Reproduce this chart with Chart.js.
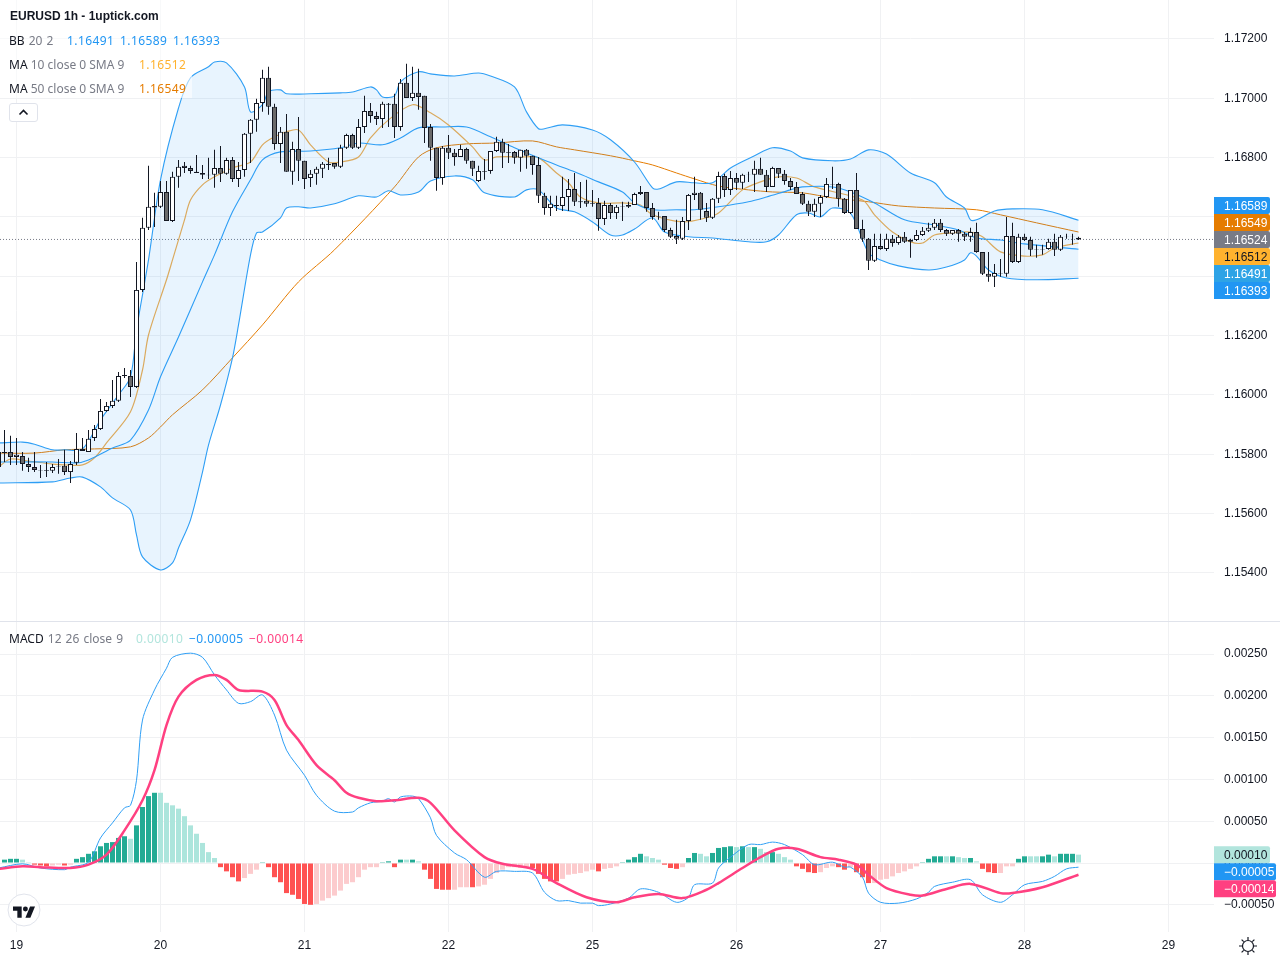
<!DOCTYPE html>
<html>
<head>
<meta charset="utf-8">
<title>EURUSD 1h</title>
<script src="https://cdn.jsdelivr.net/npm/chart.js@4/dist/chart.umd.min.js"></script>
<style>
    html, body { margin: 0; padding: 0; background: #fff; }
    #wrap { position: relative; width: 1280px; height: 960px; overflow: hidden; font-family: "Noto Sans", sans-serif; }
    canvas { position: absolute; left: 0; }
    #priceChart { top: 0; }
    #macdChart { top: 622px; }
    #split { position: absolute; left: 0; top: 621px; width: 1280px; height: 1px; background: #e0e3eb; }
    #legendBg { position: absolute; left: 0; top: 0; width: 192px; height: 98px; background: rgba(255,255,255,.55); }
    .t { position: absolute; font-size: 12px; line-height: 16px; white-space: nowrap; color: #787b86; }
    .v { letter-spacing: 0.4px; }
    .w { word-spacing: 1px; }
    .n { color: #131722; }
    #title { position: absolute; left: 10px; top: 8px; font: bold 12px/16px "Liberation Sans", sans-serif; color: #131722; white-space: nowrap; }
    #toggle { position: absolute; left: 9px; top: 103px; width: 27px; height: 17px; border: 1px solid #e0e3eb; border-radius: 3px; background: #fff; }
    #logo { position: absolute; left: 7px; top: 893px; }
    #gear { position: absolute; left: 1238px; top: 936px; }
</style>
</head>
<body>
<div id="wrap">
    <canvas id="priceChart" width="1280" height="621"></canvas>
    <canvas id="macdChart" width="1280" height="338"></canvas>
    <div id="split"></div>
    <div id="legendBg"></div>
    <div id="title">EURUSD 1h - 1uptick.com</div>
    <div class="t w" style="left:9px;top:33px"><span class="n">BB</span> 20 2</div>
    <div class="t v" style="left:67px;top:33px;color:#2196f3">1.16491</div>
    <div class="t v" style="left:120px;top:33px;color:#2196f3">1.16589</div>
    <div class="t v" style="left:173px;top:33px;color:#2196f3">1.16393</div>
    <div class="t" style="left:9px;top:57px"><span class="n">MA</span> 10 close 0 SMA 9</div>
    <div class="t v" style="left:139px;top:57px;color:#ffb22e">1.16512</div>
    <div class="t" style="left:9px;top:81px"><span class="n">MA</span> 50 close 0 SMA 9</div>
    <div class="t v" style="left:139px;top:81px;color:#e57c00">1.16549</div>
    <div id="toggle">
        <svg width="27" height="17" viewBox="0 0 27 17"><path d="M9.5 10.5 L13.5 6.5 L17.5 10.5" fill="none" stroke="#131722" stroke-width="1.6"/></svg>
    </div>
    <div class="t w" style="left:9px;top:631px"><span class="n">MACD</span> 12 26 close 9</div>
    <div class="t v" style="left:136px;top:631px;color:#b2e5dd">0.00010</div>
    <div class="t v" style="left:189px;top:631px;color:#2196f3">−0.00005</div>
    <div class="t v" style="left:249px;top:631px;color:#ff4081">−0.00014</div>
    <svg id="logo" width="34" height="34" viewBox="0 0 34 34">
        <circle cx="17" cy="17" r="16" fill="#fff" stroke="#e0e3eb"/>
        <g transform="translate(6 11) scale(0.62)" fill="#131722">
            <path d="M14 22H7V11H0V4h14v18zM28 22h-8l7.5-18h8L28 22z"/><circle cx="20" cy="8" r="4"/>
        </g>
    </svg>
    <svg id="gear" width="20" height="20" viewBox="0 0 20 20" fill="none" stroke="#131722" stroke-width="1.2">
        <circle cx="10" cy="10" r="5.5"/>
        <path d="M10 1v3M10 16v3M1 10h3M16 10h3M3.6 3.6l2.1 2.1M14.3 14.3l2.1 2.1M3.6 16.4l2.1-2.1M14.3 5.7l2.1-2.1"/>
    </svg>
</div>

<script>
// first bar is one before the left edge, hour 0 = start of the 19th
const firstHour = -3;

// prices below are in 1/100000
const opens = [
    115808,115808,115808,115791,115794,115767,115757,115747,115747,115744,
    115759,115761,115740,115771,115818,115808,115855,115885,115946,115963,
    115980,116064,116064,116027,116354,116563,116632,116634,116684,116586,
    116735,116772,116765,116752,116748,116742,116742,116765,116745,116792,
    116728,116758,116880,116927,116984,117069,116971,116846,116887,116752,
    116829,116789,116731,116745,116762,116779,116782,116769,116833,116876,
    116833,116903,116957,116940,116930,116978,116981,116903,117052,117001,
    117018,117008,116903,116833,116731,116833,116816,116802,116829,116789,
    116721,116755,116755,116822,116853,116819,116819,116799,116826,116806,
    116775,116671,116630,116640,116637,116667,116694,116653,116654,116647,
    116647,116593,116640,116613,116636,116634,116640,116677,116684,116630,
    116603,116603,116556,116536,116526,116586,116674,116681,116620,116597,
    116661,116738,116691,116731,116715,116742,116742,116762,116742,116701,
    116765,116745,116721,116701,116677,116644,116617,116644,116667,116711,
    116711,116661,116613,116691,116559,116526,116452,116502,116492,116526,
    116512,116533,116516,116522,116539,116553,116563,116580,116556,116543,
    116556,116543,116533,116549,116482,116408,116398,116408,116408,116536,
    116448,116533,116522,116492,116490,116492,116516,116489,116533,116533,
    116530
];
const highs = [
    115848,115882,115862,115855,115808,115788,115808,115764,115774,115767,
    115784,115815,115777,115872,115855,115882,115899,115986,115976,116050,
    116077,116091,116084,116448,116597,116772,116681,116721,116721,116752,
    116792,116785,116772,116809,116775,116799,116826,116839,116799,116802,
    116785,116883,116930,116998,117096,117106,116981,116903,116947,116853,
    116937,116789,116758,116769,116785,116799,116782,116843,116880,116880,
    116930,117008,116984,116954,116988,116984,117015,117065,117116,117106,
    117099,117008,116913,116833,116839,116876,116829,116843,116833,116789,
    116772,116795,116822,116870,116863,116846,116822,116826,116829,116806,
    116802,116681,116671,116671,116735,116728,116748,116718,116725,116691,
    116664,116654,116647,116640,116651,116651,116681,116704,116684,116647,
    116617,116603,116563,116590,116600,116677,116735,116684,116647,116664,
    116752,116745,116755,116748,116745,116752,116789,116799,116758,116769,
    116765,116758,116731,116718,116684,116654,116661,116674,116731,116769,
    116715,116664,116691,116748,116590,116529,116543,116543,116543,116539,
    116539,116549,116526,116556,116566,116580,116593,116593,116559,116556,
    116559,116549,116563,116580,116482,116482,116441,116458,116600,116580,
    116543,116543,116533,116506,116506,116526,116543,116539,116543,116543,
    116533
];
const lows = [
    115730,115774,115764,115764,115744,115740,115740,115720,115723,115737,
    115734,115730,115703,115764,115811,115808,115845,115882,115943,115956,
    115976,116057,115993,116023,116347,116556,116566,116630,116586,116583,
    116698,116748,116745,116748,116728,116728,116698,116718,116742,116718,
    116701,116735,116782,116887,116954,116944,116826,116782,116752,116708,
    116721,116694,116701,116708,116731,116758,116762,116765,116829,116829,
    116829,116883,116917,116910,116900,116903,116866,116890,117001,116991,
    116961,116849,116789,116688,116708,116795,116772,116802,116779,116738,
    116718,116725,116745,116819,116765,116782,116779,116752,116762,116742,
    116647,116607,116603,116620,116620,116620,116637,116630,116634,116634,
    116553,116573,116593,116593,116586,116630,116640,116674,116617,116590,
    116590,116549,116529,116509,116522,116556,116657,116590,116583,116593,
    116647,116667,116674,116691,116694,116718,116684,116742,116684,116701,
    116731,116708,116691,116677,116640,116603,116600,116600,116664,116694,
    116634,116610,116610,116559,116516,116421,116448,116489,116485,116499,
    116506,116512,116462,116519,116536,116549,116556,116549,116536,116539,
    116516,116519,116516,116479,116404,116381,116364,116398,116398,116445,
    116445,116519,116468,116462,116472,116489,116468,116485,116526,116506,
    116522
];
const closes = [
    115757,115804,115791,115798,115767,115757,115747,115745,115744,115757,
    115757,115740,115767,115818,115811,115852,115885,115946,115963,115980,
    116064,116067,116027,116354,116563,116634,116637,116684,116586,116735,
    116769,116765,116755,116748,116742,116740,116765,116745,116792,116728,
    116758,116880,116927,116984,117069,116971,116846,116887,116752,116829,
    116789,116728,116745,116762,116779,116775,116769,116833,116876,116833,
    116903,116957,116940,116930,116981,116981,116903,117052,117001,117018,
    117004,116900,116833,116731,116833,116816,116802,116829,116789,116762,
    116755,116752,116822,116853,116816,116816,116799,116826,116806,116775,
    116671,116630,116644,116637,116667,116694,116651,116649,116644,116644,
    116593,116640,116613,116634,116634,116640,116677,116684,116630,116600,
    116601,116556,116533,116526,116586,116674,116681,116624,116597,116661,
    116738,116691,116731,116715,116742,116743,116762,116742,116701,116765,
    116745,116721,116701,116677,116644,116617,116644,116667,116711,116709,
    116661,116613,116691,116559,116526,116452,116502,116492,116526,116512,
    116533,116516,116522,116539,116553,116563,116580,116556,116543,116556,
    116543,116533,116549,116482,116408,116398,116411,116410,116536,116448,
    116533,116522,116489,116490,116492,116516,116489,116533,116534,116534,
    116524
];

const upperHours = [-3,1,3,6,8,11,14,17,19,20,22,24,27,29,32,33,35,38,39,41,42,44,45,49,54,56,59,60,61,63,64,67,69,73,77,79,83,85,87,88,91,96,99,103,106,107,110,113,116,119,123,126,129,131,136,139,142,145,149,153,155,158,159,160,163,166,171,177];
const upperBand = [115838,115841,115834,115815,115815,115818,115916,116000,116061,116219,116455,116725,116967,117069,117106,117122,117119,117038,116954,116978,117021,117028,117015,117015,117018,117021,117038,117028,117004,117008,117055,117089,117082,117075,117085,117075,117038,116954,116897,116897,116910,116893,116860,116785,116698,116694,116718,116715,116715,116765,116806,116833,116822,116799,116789,116795,116826,116812,116748,116715,116667,116630,116590,116590,116620,116627,116624,116589];

const lowerHours = [-3,6,9,11,14,16,19,20,21,24,26,27,29,31,32,34,36,37,39,40,41,44,45,47,49,53,57,60,62,64,67,69,73,76,78,83,85,87,90,93,96,99,101,103,106,108,112,116,122,125,127,130,132,134,136,139,142,144,147,152,155,158,159,160,162,165,170,177];
const lowerBand = [115703,115707,115720,115723,115690,115653,115612,115528,115454,115410,115434,115484,115579,115740,115831,115966,116125,116236,116472,116546,116549,116597,116630,116634,116630,116644,116671,116667,116688,116674,116684,116721,116738,116725,116681,116667,116691,116691,116630,116617,116583,116539,116539,116559,116597,116549,116533,116529,116516,116516,116539,116607,116613,116600,116630,116613,116479,116455,116435,116421,116431,116455,116479,116468,116421,116394,116388,116393];

const basisHours = [-3,6,10,12,16,19,22,24,27,31,33,36,39,41,44,49,54,57,61,64,67,71,75,79,83,87,90,93,97,101,103,106,110,113,117,122,125,129,131,136,139,143,148,153,157,160,164,168,177];
const basisBand = [115774,115774,115771,115781,115821,115848,115949,116061,116195,116381,116472,116617,116725,116792,116819,116822,116833,116849,116843,116866,116900,116903,116903,116870,116833,116799,116775,116752,116718,116684,116647,116624,116624,116624,116634,116651,116667,116691,116701,116701,116684,116647,116590,116573,116556,116529,116522,116509,116491];

const ma10Hours = [-3,-1,2,6,8,11,13,15,19,21,22,25,26,28,29,31,33,36,39,41,43,45,47,49,52,54,57,59,62,66,69,72,76,78,80,84,87,90,92,94,97,101,104,106,111,115,117,121,124,127,130,133,141,143,146,149,151,153,156,159,161,164,168,171,173,177];
const ma10 = [115757,115784,115777,115767,115764,115764,115788,115838,115943,116084,116202,116388,116455,116590,116657,116708,116735,116765,116785,116843,116870,116887,116893,116843,116785,116785,116802,116866,116927,116978,116951,116910,116836,116792,116802,116802,116799,116748,116715,116667,116647,116647,116640,116607,116583,116597,116613,116691,116718,116735,116731,116701,116657,116607,116549,116516,116512,116539,116546,116549,116533,116482,116468,116472,116495,116512];

const ma50Hours = [-3,3,8,13,19,22,24,26,31,36,41,47,53,63,67,70,75,80,86,90,93,99,103,106,110,113,117,122,126,131,136,142,147,153,160,164,170,177];
const ma50 = [115804,115804,115815,115818,115825,115855,115892,115933,116017,116125,116236,116381,116489,116701,116802,116833,116846,116849,116856,116836,116826,116806,116789,116775,116748,116728,116704,116691,116684,116681,116664,116651,116637,116630,116624,116607,116580,116549];

// macd values below are in 1/100000
const macdHours = [-3,1,4,8,9,12,14,16,18,19,20,21,23,25,26,29,31,33,35,37,39,41,43,45,48,50,53,56,57,59,61,62,63,64,66,67,69,70,73,75,78,80,83,86,88,90,92,94,96,97,99,102,104,107,110,112,113,116,117,119,122,124,126,128,131,133,136,138,139,141,142,144,147,150,152,153,156,159,161,164,166,168,171,173,175,177];
const macdLine = [-6,-1,-6,-8,-5,1,30,48,66,69,99,171,207,233,246,251,246,225,207,191,193,201,177,135,105,81,62,61,66,72,74,77,73,79,80,77,54,33,12,4,-17,-10,-10,-12,-35,-45,-45,-48,-48,-51,-49,-42,-31,-35,-47,-41,-26,-24,-6,7,22,22,25,22,10,-2,1,-5,-5,-17,-36,-47,-48,-43,-35,-28,-23,-20,-38,-47,-38,-26,-22,-16,-7,-5];

const signalHours = [-3,1,4,9,12,15,18,21,23,25,27,30,33,35,37,41,43,45,47,50,53,55,57,60,63,67,69,73,78,81,86,90,95,100,103,107,111,115,117,121,124,127,130,134,137,140,142,145,149,151,155,159,164,166,171,177];
const signalLine = [-7,-4,-5,-6,-2,10,39,75,111,165,199,219,225,219,207,205,195,165,147,117,99,84,78,74,75,78,72,39,7,-1,-7,-24,-41,-47,-41,-37,-42,-32,-24,-6,7,17,17,7,4,-2,-14,-30,-38,-39,-31,-25,-36,-36,-29,-14];

const histFirstHour = -2;
const macdHist = [
    4,5,5,4,1,-2,-3,-4,-3,-2,-3,-2,5,7,11,14,20,24,25,30,
    32,29,45,67,80,84,84,72,69,65,56,45,35,24,13,6,-5,-10,-17,-22,
    -18,-13,-8,1,-5,-17,-23,-36,-38,-43,-49,-50,-49,-45,-42,-39,-33,-25,-23,-17,
    -8,-5,-5,1,2,-5,4,4,4,2,-8,-19,-31,-32,-32,-32,-29,-29,-29,-28,
    -26,-19,-12,-8,-5,-5,-6,-5,-6,-13,-19,-22,-22,-19,-14,-13,-12,-10,-8,-10,
    -7,-6,-4,1,4,7,11,8,6,4,-2,-6,-7,-5,6,12,11,8,12,18,
    19,20,19,20,19,19,17,13,13,11,7,4,-4,-7,-11,-12,-11,-6,-4,-5,
    -8,-5,-11,-17,-24,-24,-20,-19,-16,-12,-10,-7,-4,1,5,8,8,8,8,7,
    6,6,2,-7,-11,-12,-12,-4,-4,5,8,8,8,8,10,8,11,11,11,10
];
// 1 = strong colour, 0 = pale colour
const histStrong = [
    1,1,1,0,0,1,1,1,0,0,1,0,1,1,1,1,1,1,1,1,
    1,0,1,1,1,1,0,0,0,0,0,0,0,0,0,0,1,1,1,1,
    0,0,0,1,1,1,1,1,1,1,1,1,0,0,0,0,0,0,0,0,
    0,0,0,1,1,1,1,0,1,0,1,1,1,1,1,0,0,0,1,0,
    0,0,0,0,0,0,0,0,1,1,1,1,1,0,0,0,0,0,0,1,
    0,0,0,1,1,1,1,0,0,0,1,1,1,0,1,1,0,0,1,1,
    1,1,0,1,0,1,0,0,1,0,0,0,1,1,1,1,0,0,0,1,
    1,0,1,1,1,0,0,0,0,0,0,0,0,1,1,1,1,0,1,0,
    0,1,0,1,1,1,0,0,0,1,1,0,0,1,1,0,1,1,1,0
];

const priceTicks = [1.172, 1.170, 1.168, 1.166, 1.164, 1.162, 1.160, 1.158, 1.156, 1.154];
const macdTicks = [0.0025, 0.0020, 0.0015, 0.0010, 0.0005, 0, -0.0005];
const dayHours = [0, 24, 48, 72, 96, 120, 144, 168, 192];
const dayLabels = ['19', '20', '21', '22', '25', '26', '27', '28', '29'];

// last value tags on the price axis, top to bottom. anchor = the one that stays put
const priceTagValues = [1.16589, 1.16549, 1.16524, 1.16512, 1.16491, 1.16393];
const priceTagColors = ['#2196f3', '#e57c00', '#787b86', '#ffb22e', '#2ea3e6', '#2196f3'];
const priceTagText = ['#fff', '#fff', '#fff', '#131722', '#fff', '#fff'];
const macdTagValues = [0.0001, -0.00005, -0.00014];
const macdTagColors = ['#b2e5dd', '#2196f3', '#ff4081'];
const macdTagText = ['#131722', '#fff', '#fff'];

const axisFont = { family: '"Liberation Sans", sans-serif', size: 12 };
const gridColor = '#f0f1f3';
const bandColor = '#2f9ff5';
const axisWidth = 66;

function toPrice(v) { return v / 100000; }
function points(hours, values) {
    return hours.map((h, i) => ({ x: h, y: toPrice(values[i]) }));
}
function minusSign(text) { return text.replace('-', '\u2212'); }

// Draws the coloured last value tags and pushes them apart when they overlap
function tagPlugin(id, values, colors, textColors, anchor) {
    return {
        id: id,
        afterDraw(chart) {
            const scale = chart.scales.y;
            const ctx = chart.ctx;
            const pos = values.map(v => scale.getPixelForValue(v));
            for (let i = anchor - 1; i >= 0; i--) pos[i] = Math.min(pos[i], pos[i + 1] - 17);
            for (let i = anchor + 1; i < pos.length; i++) pos[i] = Math.max(pos[i], pos[i - 1] + 17);
            ctx.save();
            ctx.font = axisFont.size + 'px ' + axisFont.family;
            ctx.textBaseline = 'middle';
            ctx.textAlign = 'left';
            values.forEach((v, i) => {
                const w = v < 0 ? 62 : 56;
                ctx.fillStyle = colors[i];
                ctx.beginPath();
                ctx.roundRect(chart.chartArea.right, pos[i] - 8.5, w, 17, [0, 2, 2, 0]);
                ctx.fill();
                ctx.fillStyle = textColors[i];
                ctx.fillText(minusSign(v.toFixed(5)), chart.chartArea.right + 10, pos[i] + 1.5);
            });
            ctx.restore();
        }
    };
}

function xAxis(showLabels, height) {
    return {
        type: 'linear',
        offset: false,
        min: -2.75,
        max: 199.5833,
        afterBuildTicks(scale) { scale.ticks = dayHours.map(h => ({ value: h })); },
        afterFit(scale) {
            scale.height = height;
            scale.paddingLeft = 0;
            scale.paddingRight = 0;
        },
        grid: { color: gridColor, drawTicks: false, offset: false },
        border: { display: false },
        ticks: {
            display: showLabels,
            autoSkip: false,
            maxRotation: 0,
            padding: 6,
            color: '#131722',
            font: axisFont,
            callback: function(value) { return dayLabels[dayHours.indexOf(value)]; }
        }
    };
}

function yAxis(min, max, tickValues) {
    return {
        position: 'right',
        min: min,
        max: max,
        afterBuildTicks(scale) { scale.ticks = tickValues.map(v => ({ value: v })); },
        afterFit(scale) {
            // the plot has to run right up to the canvas edges
            scale.width = axisWidth;
            scale.paddingTop = 0;
            scale.paddingBottom = 0;
        },
        grid: { color: gridColor, drawTicks: false },
        border: { display: false },
        ticks: {
            autoSkip: false,
            padding: 10,
            color: '#131722',
            font: axisFont,
            callback: function(value) { return minusSign(value.toFixed(5)); }
        }
    };
}

const baseOptions = {
    responsive: false,
    animation: false,
    events: [],
    layout: { padding: 0, autoPadding: false },
    plugins: { legend: { display: false }, tooltip: { enabled: false } }
};

function lineSet(label, data, color, width, extra) {
    return Object.assign({
        type: 'line',
        label: label,
        data: data,
        borderColor: color,
        borderWidth: width,
        pointRadius: 0,
        tension: 0.3,
        fill: false,
        order: 5
    }, extra || {});
}

const barHours = opens.map((_, i) => firstHour + i);
const lastClose = toPrice(closes[closes.length - 1]);

new Chart(document.getElementById('priceChart'), {
    type: 'bar',
    data: {
        datasets: [
            lineSet('BB upper', points(upperHours, upperBand), bandColor, 1.1, { fill: '+1', backgroundColor: 'rgba(33,150,243,0.1)' }),
            lineSet('BB lower', points(lowerHours, lowerBand), bandColor, 1.1),
            lineSet('BB basis', points(basisHours, basisBand), bandColor, 1.1),
            lineSet('MA 10', points(ma10Hours, ma10), '#f0ad4e', 1.2),
            lineSet('MA 50', points(ma50Hours, ma50), '#e57c00', 1),
            lineSet('Last', [{ x: -2.75, y: lastClose }, { x: 199.5833, y: lastClose }], '#787b86', 1, { borderDash: [1, 2], tension: 0 }),
            {
                label: 'Wicks',
                data: barHours.map((h, i) => ({ x: h, y: [toPrice(lows[i]), toPrice(highs[i])] })),
                backgroundColor: '#131722',
                borderWidth: 0,
                inflateAmount: 0,
                barThickness: 1,
                grouped: false,
                order: 2
            },
            {
                label: 'Bodies',
                data: barHours.map((h, i) => ({ x: h, y: [toPrice(opens[i]), toPrice(closes[i])] })),
                backgroundColor: barHours.map((_, i) => closes[i] >= opens[i] ? '#ffffff' : '#6a6a6a'),
                borderColor: '#131722',
                borderWidth: 1,
                borderSkipped: false,
                inflateAmount: 0,
                barThickness: 5,
                grouped: false,
                order: 1
            }
        ]
    },
    options: Object.assign({}, baseOptions, {
        scales: { x: xAxis(false, 0), y: yAxis(1.15238, 1.17331, priceTicks) }
    }),
    plugins: [tagPlugin('priceTags', priceTagValues, priceTagColors, priceTagText, 2)]
});

new Chart(document.getElementById('macdChart'), {
    type: 'bar',
    data: {
        datasets: [
            {
                label: 'Histogram',
                data: macdHist.map((v, i) => ({ x: histFirstHour + i, y: toPrice(v) })),
                backgroundColor: macdHist.map((v, i) => {
                    if (v >= 0) return histStrong[i] ? '#22ab94' : '#ace5dc';
                    return histStrong[i] ? '#ff5252' : '#fccbcd';
                }),
                borderWidth: 0,
                inflateAmount: 0,
                barThickness: 5,
                grouped: false,
                order: 3
            },
            lineSet('MACD', points(macdHours, macdLine), bandColor, 1, { order: 2 }),
            lineSet('Signal', points(signalHours, signalLine), '#ff4081', 2.5, { order: 1 })
        ]
    },
    options: Object.assign({}, baseOptions, {
        scales: { x: xAxis(true, 28), y: yAxis(-0.00082536, 0.0028828, macdTicks) }
    }),
    plugins: [tagPlugin('macdTags', macdTagValues, macdTagColors, macdTagText, 0)]
});
</script>
</body>
</html>
